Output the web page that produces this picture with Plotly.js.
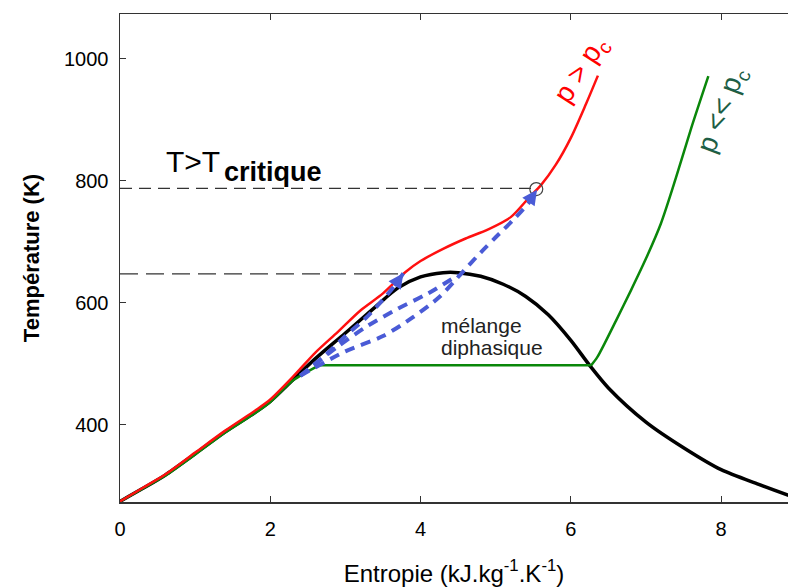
<!DOCTYPE html>
<html>
<head>
<meta charset="utf-8">
<script src="https://cdn.plot.ly/plotly-3.0.1.min.js"></script>
<style>html,body{margin:0;padding:0;background:#fff;}#chart{width:788px;height:588px;}</style>
</head>
<body>
<div id="chart"></div>
<script>
// Saturation dome (black)
const sBlack = [0, 0.3, 0.6, 1.0, 1.4, 1.8, 2.0, 2.3, 2.6, 3.0, 3.4, 3.7, 4.0, 4.3, 4.5, 4.8, 5.1, 5.4, 5.7, 6.0, 6.25, 6.5, 7.0, 7.5, 8.0, 8.5, 8.9];
const TBlack = [274, 295, 317, 352, 388, 420, 438, 473, 508, 550, 593, 624, 642, 649, 649, 643, 630, 610, 580, 538, 497, 460, 404, 362, 326, 302, 284];
// Supercritical isobar p > pc (red)
const sRed = [0, 0.3, 0.6, 1.0, 1.4, 1.8, 2.0, 2.3, 2.6, 2.9, 3.2, 3.5, 3.8, 4.0, 4.3, 4.6, 4.9, 5.2, 5.45, 5.6, 5.8, 6.0, 6.2, 6.36];
const TRed = [274, 296, 318, 354, 390, 423, 441, 478, 518, 552, 587, 615, 650, 668, 688, 705, 720, 740, 773, 792, 826, 870, 925, 972];
// Low pressure isobar p << pc (green): liquid part, plateau, vapour part
const sGreenLiq = [0, 0.3, 0.6, 1.0, 1.4, 1.8, 2.0, 2.3, 2.65];
const TGreenLiq = [274, 295, 316, 351, 387, 419, 437, 472, 497];
const sGreenPlateau = [2.65, 6.27];
const TGreenPlateau = [497, 497];
const sGreenVap = [6.27, 6.35, 6.45, 6.6, 6.8, 7.0, 7.2, 7.4, 7.6, 7.83];
const TGreenVap = [497, 510, 533, 570, 620, 672, 730, 805, 885, 971];
// Blue dashed paths
const sBlueUp = [2.4, 2.7, 3.0, 3.3, 3.55, 3.7, 3.77];
const TBlueUp = [480, 510, 545, 578, 612, 635, 648];
const sBlueMid = [2.4, 2.9, 3.3, 3.7, 4.1, 4.5];
const TBlueMid = [480, 528, 562, 590, 615, 645];
const sBlueLow = [2.4, 3.0, 3.5, 3.9, 4.25, 4.56, 4.8, 5.0, 5.23, 5.45, 5.55];
const TBlueLow = [480, 520, 545, 576, 609, 650, 682, 707, 735, 765, 785];
// Reference dashed levels
const critLevels = [787, 647];
const critEnds = [5.52, 3.72];
const critPoint = [5.54, 786];
const xTicks = [0, 2, 4, 6, 8];
const yTicks = [400, 600, 800, 1000];

const FONT = 'Liberation Sans, Arial, sans-serif';
const BLUE = '#4a5bd6';
const GREEN = '#0a870a';

const traces = [];
critLevels.forEach((lv, i) => {
  traces.push({x: [0, critEnds[i]], y: [lv, lv], mode: 'lines',
    line: {color: '#333', width: 1.2, dash: i === 0 ? '12px,7px' : '18px,8px'}, hoverinfo: 'skip'});
});
traces.push({x: sBlack, y: TBlack, mode: 'lines', line: {color: '#000', width: 3.5, shape: 'spline', smoothing: 0.8}});
traces.push({x: sGreenLiq, y: TGreenLiq, mode: 'lines', line: {color: GREEN, width: 2.5, shape: 'spline', smoothing: 0.8}});
traces.push({x: sGreenPlateau, y: TGreenPlateau, mode: 'lines', line: {color: GREEN, width: 2.5}});
traces.push({x: sGreenVap, y: TGreenVap, mode: 'lines', line: {color: GREEN, width: 2.5, shape: 'spline', smoothing: 0.8}});
traces.push({x: sRed, y: TRed, mode: 'lines', line: {color: '#ff1010', width: 2.5, shape: 'spline', smoothing: 0.8}});
[[sBlueUp, TBlueUp], [sBlueMid, TBlueMid], [sBlueLow, TBlueLow]].forEach(p => {
  traces.push({x: p[0], y: p[1], mode: 'lines', line: {color: BLUE, width: 4, dash: '10px,7px', shape: 'spline', smoothing: 0.8}});
});
traces.push({x: [critPoint[0]], y: [critPoint[1]], mode: 'markers',
  marker: {symbol: 'circle-open', size: 13, color: '#444', line: {width: 1.2, color: '#444'}}});

const ann = [
  {x: 0.59, y: 831, xref: 'x', yref: 'y', text: 'T&gt;T', showarrow: false, xanchor: 'left', yanchor: 'middle',
   font: {family: FONT, size: 30, color: '#000'}},
  {x: 1.36, y: 814, xref: 'x', yref: 'y', text: '<b>critique</b>', showarrow: false, xanchor: 'left', yanchor: 'middle',
   font: {family: FONT, size: 27, color: '#000'}},
  {x: 4.24, y: 563, xref: 'x', yref: 'y', text: 'mélange', showarrow: false, xanchor: 'left', yanchor: 'middle',
   font: {family: FONT, size: 21, color: '#222'}},
  {x: 4.24, y: 526, xref: 'x', yref: 'y', text: 'diphasique', showarrow: false, xanchor: 'left', yanchor: 'middle',
   font: {family: FONT, size: 21, color: '#222'}},
  {x: 6.14, y: 981, xref: 'x', yref: 'y', text: 'p &gt; p<sub>c</sub>', showarrow: false, textangle: -57,
   font: {family: FONT, size: 28, color: '#ff0000'}},
  {x: 8.02, y: 915, xref: 'x', yref: 'y', text: 'p &lt;&lt; p<sub>c</sub>', showarrow: false, textangle: -69,
   font: {family: FONT, size: 28, color: '#1d5e45'}},
  {x: sBlueUp[sBlueUp.length - 1], y: TBlueUp[TBlueUp.length - 1], ax: 3.64, ay: 625, axref: 'x', ayref: 'y', xref: 'x', yref: 'y',
   showarrow: true, arrowhead: 2, arrowsize: 1, arrowwidth: 3, arrowcolor: BLUE, text: ''},
  {x: sBlueLow[sBlueLow.length - 1], y: TBlueLow[TBlueLow.length - 1], ax: 5.42, ay: 762, axref: 'x', ayref: 'y', xref: 'x', yref: 'y',
   showarrow: true, arrowhead: 2, arrowsize: 1, arrowwidth: 3, arrowcolor: BLUE, text: ''}
];

const layout = {
  width: 788, height: 588,
  margin: {l: 120, r: 0, t: 14, b: 86},
  paper_bgcolor: '#fff', plot_bgcolor: '#fff',
  showlegend: false,
  font: {family: FONT, color: '#000'},
  xaxis: {range: [0, 8.89], tickvals: xTicks, ticktext: xTicks.map(String), ticks: 'inside', ticklen: 6,
    tickcolor: '#333', showline: true, linecolor: '#333', linewidth: 1.5, mirror: 'ticks', showgrid: false,
    zeroline: false, tickfont: {family: FONT, size: 20, color: '#000'}, ticklabelstandoff: 8,
    title: {text: 'Entropie (kJ.kg<sup>-1</sup>.K<sup>-1</sup>)', font: {family: FONT, size: 24, color: '#000'}, standoff: 26}},
  yaxis: {range: [273, 1073], tickvals: yTicks, ticktext: yTicks.map(String), ticks: 'inside', ticklen: 6,
    tickcolor: '#333', showline: true, linecolor: '#333', linewidth: 1.5, showgrid: false, zeroline: false,
    tickfont: {family: FONT, size: 20, color: '#000'}, ticklabelstandoff: 6,
    title: {text: '<b>Température (K)</b>', font: {family: FONT, size: 22, color: '#000'}, standoff: 18}},
  annotations: ann
};

Plotly.newPlot('chart', traces, layout, {staticPlot: true, displayModeBar: false});
</script>
</body>
</html>
